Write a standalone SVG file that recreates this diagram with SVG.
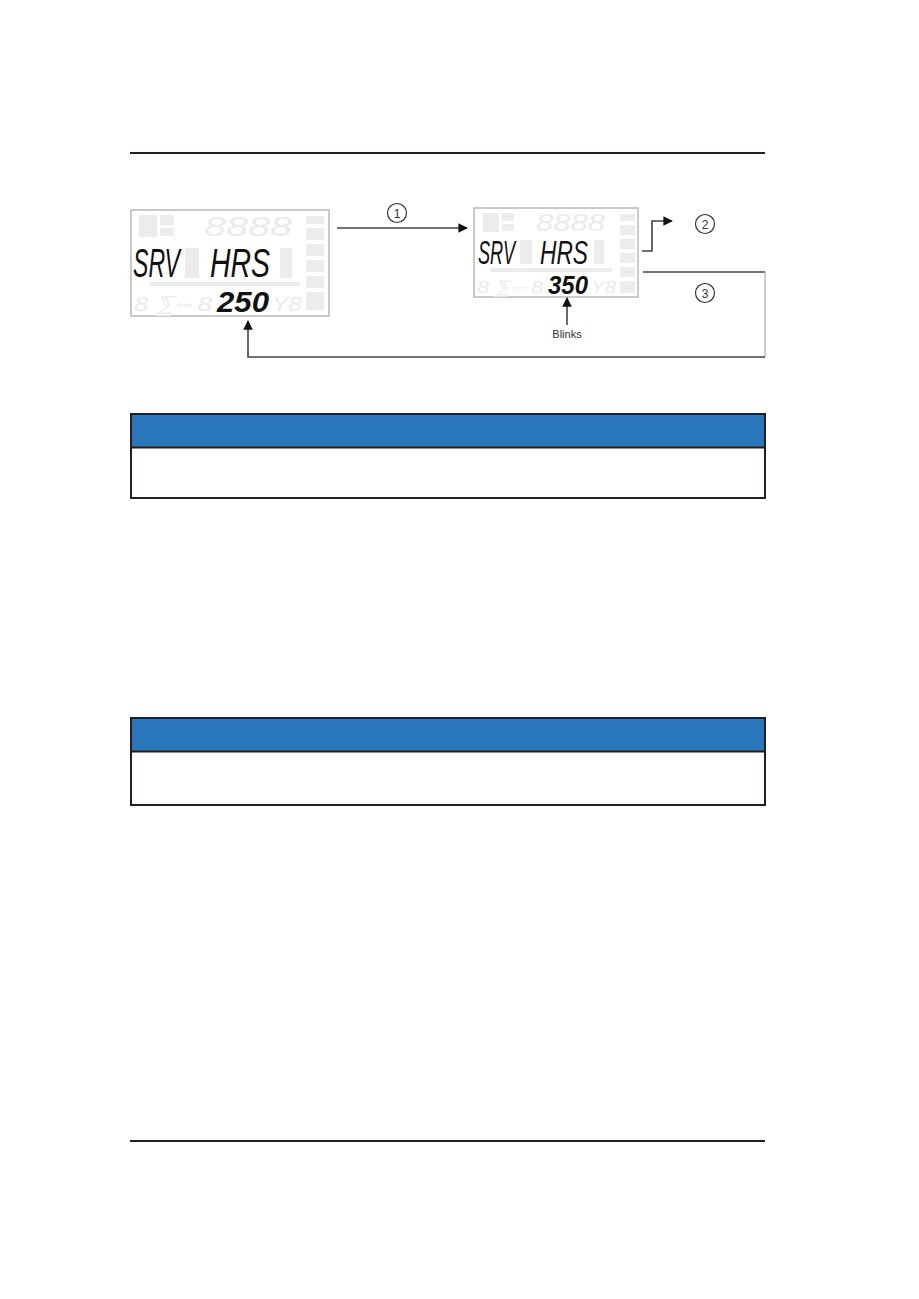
<svg xmlns="http://www.w3.org/2000/svg" width="919" height="1299" viewBox="0 0 919 1299">
<style>
.rule{stroke:#231f20;stroke-width:2.2}
.lcd{fill:#fff;stroke:#b8b8b8;stroke-width:1.5}
.ghost{fill:#ebebeb;font-family:"Liberation Sans",sans-serif;font-style:italic}
.gb{fill:#ececec}
.seg{fill:#111;font-family:"Liberation Sans",sans-serif;font-style:italic}
.conn{fill:none;stroke:#444;stroke-width:1.6}
.num{fill:none;stroke:#333;stroke-width:1.2}
.numt{font-family:"Liberation Sans",sans-serif;font-size:12px;fill:#333;text-anchor:middle}
.tbl{fill:#fff;stroke:#231f20;stroke-width:2}
.hdr{fill:#2b77bc}
</style>
<defs>
<marker id="ah" viewBox="0 0 10 10" refX="9" refY="5" markerWidth="6" markerHeight="6" orient="auto" markerUnits="strokeWidth">
<path d="M0,0 L10,5 L0,10 z" fill="#111"/>
</marker>
</defs>
<rect width="919" height="1299" fill="#fff"/>
<line class="rule" x1="130" y1="153" x2="765" y2="153"/>
<line class="rule" x1="130" y1="1141" x2="765" y2="1141"/>

<g id="lcd-left">
<rect class="lcd" x="131" y="210" width="198" height="106"/>
<text class="ghost" x="204" y="236" font-size="27" textLength="88" lengthAdjust="spacingAndGlyphs">8888</text>
<rect class="gb" x="139" y="215" width="18" height="22"/>
<rect class="gb" x="160" y="215" width="14" height="10"/>
<rect class="gb" x="160" y="228" width="14" height="8"/>
<rect class="gb" x="306" y="216" width="18" height="8"/>
<rect class="gb" x="306" y="228" width="18" height="12"/>
<rect class="gb" x="306" y="244" width="18" height="12"/>
<rect class="gb" x="306" y="260" width="18" height="12"/>
<rect class="gb" x="306" y="276" width="18" height="12"/>
<rect class="gb" x="306" y="292" width="18" height="18"/>
<rect class="gb" x="185" y="248" width="14" height="30"/>
<rect class="gb" x="280" y="248" width="12" height="30"/>
<rect class="gb" x="150" y="282" width="150" height="4"/>
<text class="ghost" x="134" y="311" font-size="21" textLength="78" lengthAdjust="spacingAndGlyphs">8 ⅀⇔8</text>
<text class="ghost" x="272" y="311" font-size="21" textLength="30" lengthAdjust="spacingAndGlyphs">Y8</text>
<text class="seg" x="133" y="277" font-size="40" textLength="47" lengthAdjust="spacingAndGlyphs">SRV</text>
<text class="seg" x="210" y="277" font-size="40" textLength="60" lengthAdjust="spacingAndGlyphs">HRS</text>
<text class="seg" x="217" y="312" font-size="30" font-weight="bold" textLength="52" lengthAdjust="spacingAndGlyphs">250</text>
</g>

<g id="lcd-right">
<rect class="lcd" x="474" y="208" width="164" height="89"/>
<text class="ghost" x="536" y="231" font-size="23" textLength="69" lengthAdjust="spacingAndGlyphs">8888</text>
<rect class="gb" x="483" y="213" width="16" height="19"/>
<rect class="gb" x="502" y="213" width="12" height="8"/>
<rect class="gb" x="502" y="224" width="12" height="7"/>
<rect class="gb" x="620" y="214" width="15" height="7"/>
<rect class="gb" x="620" y="225" width="15" height="10"/>
<rect class="gb" x="620" y="239" width="15" height="10"/>
<rect class="gb" x="620" y="253" width="15" height="10"/>
<rect class="gb" x="620" y="267" width="15" height="10"/>
<rect class="gb" x="620" y="281" width="15" height="12"/>
<rect class="gb" x="520" y="240" width="12" height="24"/>
<rect class="gb" x="594" y="240" width="10" height="24"/>
<rect class="gb" x="490" y="268" width="122" height="4"/>
<text class="ghost" x="477" y="293" font-size="17" textLength="66" lengthAdjust="spacingAndGlyphs">8 ⅀⇔8</text>
<text class="ghost" x="591" y="293" font-size="17" textLength="25" lengthAdjust="spacingAndGlyphs">Y8</text>
<text class="seg" x="478" y="264" font-size="33" textLength="37" lengthAdjust="spacingAndGlyphs">SRV</text>
<text class="seg" x="540" y="264" font-size="33" textLength="48" lengthAdjust="spacingAndGlyphs">HRS</text>
<text class="seg" x="548" y="294" font-size="25" font-weight="bold" textLength="40" lengthAdjust="spacingAndGlyphs">350</text>
</g>

<g id="connectors">
<line class="conn" x1="337" y1="228" x2="467" y2="228" marker-end="url(#ah)"/>
<path class="conn" d="M642,251 H652 V221 H672" marker-end="url(#ah)"/>
<path class="conn" d="M643,272 H765"/>
<path d="M765,272 V357" fill="none" stroke="#aaa" stroke-width="1.2"/>
<path class="conn" d="M765,357 H248 V321" marker-end="url(#ah)"/>
<line class="conn" x1="567" y1="325" x2="567" y2="298" marker-end="url(#ah)"/>
</g>

<g id="labels">
<circle class="num" cx="397" cy="213" r="9.5"/>
<text class="numt" x="397" y="217.5">1</text>
<circle class="num" cx="705" cy="224" r="9.5"/>
<text class="numt" x="705" y="228.5">2</text>
<circle class="num" cx="705" cy="293" r="9.5"/>
<text class="numt" x="705" y="297.5">3</text>
<text x="567" y="338" font-family="Liberation Sans,sans-serif" font-size="11" fill="#333" text-anchor="middle">Blinks</text>
</g>

<g id="table1">
<rect class="tbl" x="131" y="414" width="634" height="84"/>
<rect class="hdr" x="132" y="415" width="632" height="32"/>
<line class="rule" x1="131" y1="447.5" x2="765" y2="447.5" style="stroke-width:2"/>
</g>

<g id="table2">
<rect class="tbl" x="131" y="718" width="634" height="87"/>
<rect class="hdr" x="132" y="719" width="632" height="32"/>
<line class="rule" x1="131" y1="751.5" x2="765" y2="751.5" style="stroke-width:2"/>
</g>
</svg>
